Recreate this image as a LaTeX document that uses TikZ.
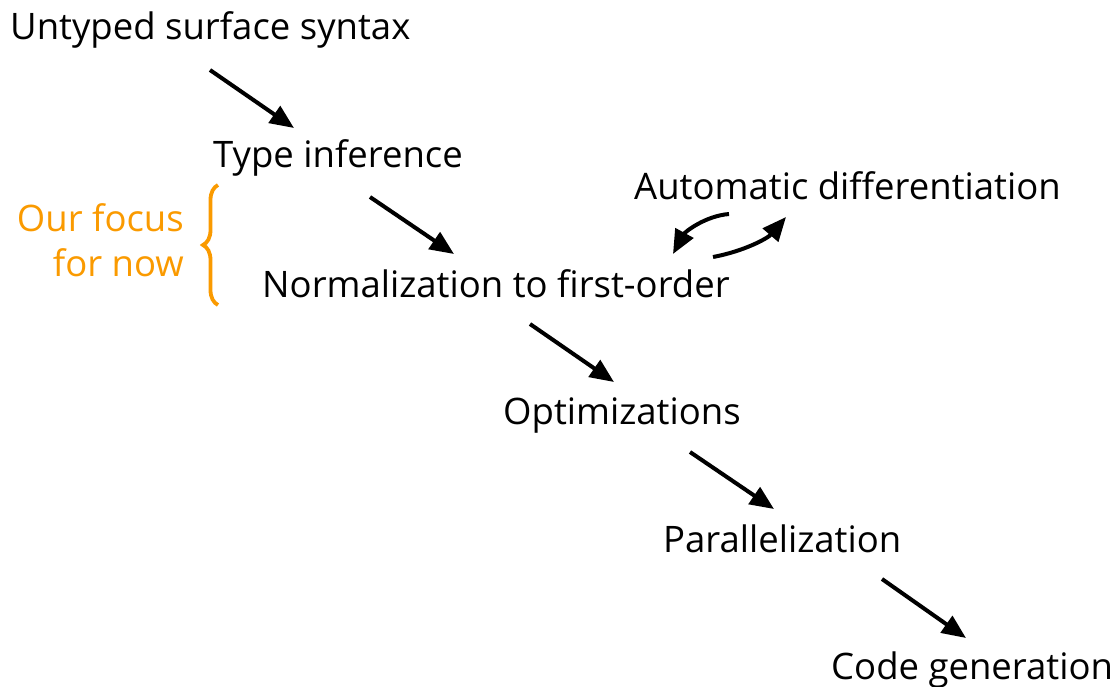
\documentclass[tikz,border=0pt]{standalone}
\usepackage{fontspec}
\setmainfont{Open Sans}
\usetikzlibrary{arrows.meta,decorations.pathreplacing}
\definecolor{focusorange}{HTML}{FA9A00}
\tikzset{
  lbl/.style={anchor=base west,inner sep=0pt,font=\fontsize{36.5}{42}\selectfont},
  flow/.style={line width=4pt,-{Triangle[length=24pt,width=20pt]}},
}
\begin{document}
\begin{tikzpicture}[x=1pt,y=-1pt]
\useasboundingbox (0,0) rectangle (1116,687);
\node[lbl] (s) at (10,40) {Untyped surface syntax};
\node[lbl] (t) at (213,168) {Type inference};
\node[lbl] (ad) at (634,200) {Automatic differentiation};
\node[lbl] (n) at (262,297) {Normalization to first-order};
\node[lbl] (o) at (503,424) {Optimizations};
\node[lbl] (p) at (663,552) {Parallelization};
\node[lbl] (c) at (831,679) {Code generation};
\node[lbl,anchor=base east,text=focusorange,align=right] (f1) at (184,231) {Our focus};
\node[lbl,anchor=base east,text=focusorange,align=right] (f2) at (184,276) {for now};
\coordinate (a1s) at (210,70);  \coordinate (a1e) at (294,128);
\coordinate (a2s) at (370,197); \coordinate (a2e) at (454,254);
\coordinate (a3s) at (530,324); \coordinate (a3e) at (614,382);
\coordinate (a4s) at (690,452); \coordinate (a4e) at (774,509);
\coordinate (a5s) at (882,579); \coordinate (a5e) at (966,638);
\draw[flow] (a1s) -- (a1e);
\draw[flow] (a2s) -- (a2e);
\draw[flow] (a3s) -- (a3e);
\draw[flow] (a4s) -- (a4e);
\draw[flow] (a5s) -- (a5e);
\coordinate (b1s) at (729,214); \coordinate (b1e) at (673,254);
\coordinate (b2s) at (713,257); \coordinate (b2e) at (786,217);
\draw[flow] (b1s) .. controls (705,216) and (685,232) .. (b1e);
\draw[flow] (b2s) .. controls (745,251) and (768,238) .. (b2e);
\draw[focusorange,line width=3.8pt,decorate,decoration={brace,amplitude=15pt}] (218,305) -- (218,185);
\end{tikzpicture}
\end{document}
